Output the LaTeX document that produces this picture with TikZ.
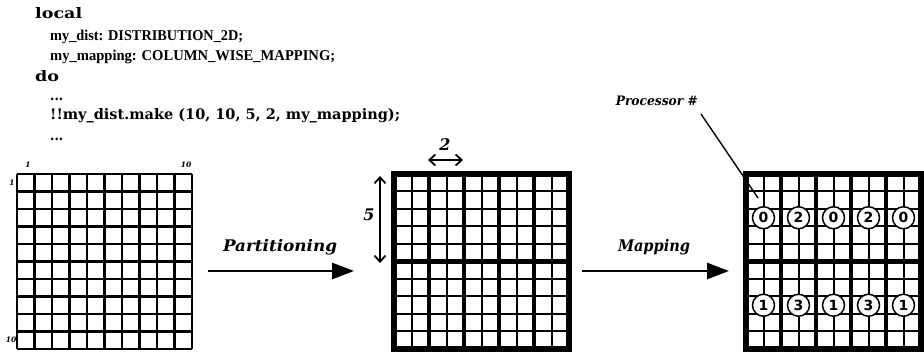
\documentclass[tikz,border=0pt]{standalone}
\usepackage{fontspec}
\setmainfont{DejaVu Serif}
\newfontfamily\capsfont{Liberation Serif}
\newfontfamily\numfont{DejaVu Sans}
\usetikzlibrary{arrows.meta}
\newcommand{\fitw}[2]{\resizebox{#1}{\height}{#2}}
\begin{document}
\begin{tikzpicture}[x=1pt,y=-1pt,
  code/.style={anchor=base west,inner sep=0pt,font=\fontsize{14.5}{16}\selectfont\bfseries},
  codecaps/.style={anchor=base west,inner sep=0pt,font=\capsfont\fontsize{15}{16}\selectfont\bfseries},
  lab/.style={inner sep=0pt,font=\fontsize{16}{18}\selectfont\bfseries\itshape},
  idx/.style={inner sep=0pt,font=\fontsize{7.5}{8}\selectfont\bfseries\itshape},
  thinline/.style={line width=2pt},
  leftline/.style={line width=2.4pt},
  blockline/.style={line width=4.2pt},
  borderline/.style={line width=5.5pt},
  bigarrow/.style={line width=2.8pt,-{Triangle[length=22pt,width=16pt]}},
  dimarrow/.style={line width=1.8pt,{Straight Barb[length=6pt,width=11pt]}-{Straight Barb[length=6pt,width=11pt]}},
  proc/.style={circle,draw,line width=1.5pt,fill=white,inner sep=0pt,minimum size=22pt,font=\numfont\bfseries\fontsize{14}{15}\selectfont}]
\useasboundingbox (0,0) rectangle (924,352);
\fill[white] (0,0) rectangle (924,352);

% code text
\node[code] (c1) at (35,19) {\fitw{47pt}{local}};
\node[codecaps] (c2) at (50,41) {\fitw{193pt}{my\_dist: DISTRIBUTION\_2D;}};
\node[codecaps] (c3) at (50,61) {\fitw{285pt}{my\_mapping: COLUMN\_WISE\_MAPPING;}};
\node[code] (c4) at (35,82) {\fitw{24pt}{do}};
\node[code] (c5) at (50,101) {\fitw{13pt}{...}};
\node[code] (c6) at (50,120) {\fitw{350pt}{!!my\_dist.make (10, 10, 5, 2, my\_mapping);}};
\node[code] (c7) at (50,141) {\fitw{13pt}{...}};

% left grid
\def\sz{175}
\foreach \i in {0,...,10}{
  \draw[leftline] ({17+\i*17.5},174) -- ++(0,\sz);
  \draw[leftline] (17,{174+\i*17.5}) -- ++(\sz,0);
}
\node[idx] (l1t) at (28,165) {1};
\node[idx] (l10t) at (186,165) {10};
\node[idx] (l1l) at (12,183) {1};
\node[idx] (l10l) at (11,340) {10};

% middle grid
\foreach \i in {0,...,10}{
  \draw[thinline] ({394+\i*17.5},174) -- ++(0,\sz);
  \draw[thinline] (394,{174+\i*17.5}) -- ++(\sz,0);
}
\foreach \i in {2,4,6,8}{
  \draw[blockline] ({394+\i*17.5},174) -- ++(0,\sz);
}
\draw[blockline] (394,{174+5*17.5}) -- ++(\sz,0);
\draw[borderline] (394,174) rectangle ++(\sz,\sz);

% dimension arrows
\coordinate (d2a) at (428,160);
\coordinate (d2b) at (463,160);
\draw[dimarrow] (d2a) -- (d2b);
\node[lab] (n2) at (445,145) {2};
\coordinate (d5a) at (380,176);
\coordinate (d5b) at (380,263);
\draw[dimarrow] (d5a) -- (d5b);
\node[lab] (n5) at (369,215) {5};

% right grid
\foreach \i in {0,...,10}{
  \draw[thinline] ({746+\i*17.5},174) -- ++(0,\sz);
  \draw[thinline] (746,{174+\i*17.5}) -- ++(\sz,0);
}
\foreach \i in {2,4,6,8}{
  \draw[blockline] ({746+\i*17.5},174) -- ++(0,\sz);
}
\draw[blockline] (746,{174+5*17.5}) -- ++(\sz,0);
\draw[borderline] (746,174) rectangle ++(\sz,\sz);

% processor circles
\node[proc] (p1) at (763.5,217.75) {0};
\node[proc] (p2) at (798.5,217.75) {2};
\node[proc] (p3) at (833.5,217.75) {0};
\node[proc] (p4) at (868.5,217.75) {2};
\node[proc] (p5) at (903.5,217.75) {0};
\node[proc] (q1) at (763.5,305.25) {1};
\node[proc] (q2) at (798.5,305.25) {3};
\node[proc] (q3) at (833.5,305.25) {1};
\node[proc] (q4) at (868.5,305.25) {3};
\node[proc] (q5) at (903.5,305.25) {1};

% processor label
\node[lab,anchor=base east,font=\fontsize{13}{14}\selectfont\bfseries\itshape] (plab) at (698,106) {\fitw{82pt}{Processor \#}};
\coordinate (ps) at (701,114);
\coordinate (pe) at (758,198);
\draw[line width=1.4pt] (ps) -- (pe);

% big arrows
\coordinate (a1s) at (208,271);
\coordinate (a1e) at (354,271);
\draw[bigarrow] (a1s) -- (a1e);
\node[lab] (part) at (280,247) {\fitw{114pt}{Partitioning}};
\coordinate (a2s) at (582,271);
\coordinate (a2e) at (729,271);
\draw[bigarrow] (a2s) -- (a2e);
\node[lab] (map) at (654,247) {\fitw{72pt}{Mapping}};
\end{tikzpicture}
\end{document}
